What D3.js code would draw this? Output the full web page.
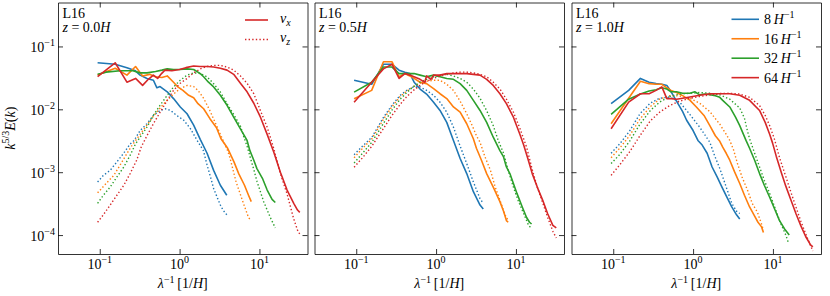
<!DOCTYPE html>
<html>
<head>
<meta charset="utf-8">
<script src="https://cdn.jsdelivr.net/npm/d3@7"></script>
<style>
  body { margin: 0; background: #fff; }
  svg, svg text { font-family: "Liberation Serif", "DejaVu Serif", serif; }
  svg { display: block; }
  .axis path, .axis line { stroke: #000; stroke-width: 0.8; }
</style>
</head>
<body>
<svg id="chart" width="830" height="296" font-family="Liberation Serif"></svg>
<script>
// ---- data: [lambda^-1, k^{5/3} E(k)] ----
var resolutions = ["8", "16", "32", "64"];
var colors = ["#1f77b4", "#ff7f0e", "#2ca02c", "#d62728"];
var heights = ["0.0", "0.5", "1.0"];
var xMajor = [0.1, 1, 10];
var yMajor = [1e-4, 1e-3, 1e-2, 1e-1];

// z = 0.0H
var p1_vx_8 = [[0.094,0.055],[0.156,0.052],[0.219,0.046],[0.28,0.041],[0.32,0.035],[0.39,0.031],[0.47,0.029],[0.52,0.022],[0.57,0.023],[0.70,0.019],[0.84,0.0148],[1.02,0.0109],[1.24,0.0085],[1.5,0.0056],[1.82,0.0033],[2.21,0.002],[2.67,0.00107],[3.24,0.00062],[3.9,0.00043]];
var p1_vz_8 = [[0.094,0.0007],[0.111,0.00089],[0.135,0.00107],[0.164,0.00146],[0.199,0.002],[0.24,0.0028],[0.27,0.0032],[0.32,0.0046],[0.39,0.0059],[0.47,0.008],[0.57,0.0096],[0.66,0.0102],[0.77,0.0096],[0.92,0.008],[1.13,0.0067],[1.37,0.0049],[1.66,0.0032],[1.99,0.0022],[2.21,0.0013],[2.5,0.00075],[2.67,0.00055],[3.0,0.00038],[3.24,0.0003],[3.5,0.00025],[3.9,0.00021]];
var p1_vx_16 = [[0.094,0.035],[0.156,0.045],[0.219,0.035],[0.281,0.048],[0.344,0.034],[0.42,0.036],[0.5,0.033],[0.6,0.032],[0.7,0.034],[0.84,0.027],[0.95,0.0227],[1.1,0.02],[1.3,0.0167],[1.5,0.0153],[1.7,0.0123],[2.0,0.0102],[2.4,0.0071],[2.9,0.0051],[3.3,0.0034],[4.0,0.0024],[4.8,0.00146],[5.5,0.00095],[6.5,0.00062],[7.3,0.00043],[7.9,0.00034]];
var p1_vz_16 = [[0.094,0.00047],[0.12,0.00066],[0.15,0.00089],[0.18,0.0013],[0.22,0.002],[0.25,0.0026],[0.32,0.004],[0.39,0.0056],[0.47,0.0078],[0.57,0.0105],[0.7,0.014],[0.84,0.0175],[1.0,0.021],[1.24,0.024],[1.5,0.023],[1.7,0.02],[2.0,0.015],[2.4,0.0095],[2.9,0.0055],[3.4,0.0035],[4.0,0.0022],[4.3,0.00165],[5.1,0.0007],[6.3,0.00032],[7.3,0.00019],[7.9,0.00017]];
var p1_vx_32 = [[0.094,0.036],[0.12,0.039],[0.18,0.041],[0.26,0.041],[0.32,0.038],[0.39,0.038],[0.5,0.04],[0.6,0.042],[0.7,0.044],[0.84,0.043],[1.0,0.043],[1.24,0.044],[1.5,0.043],[1.82,0.037],[2.0,0.033],[2.3,0.027],[2.67,0.0227],[3.24,0.0167],[3.93,0.0116],[4.76,0.0075],[5.78,0.0049],[7.0,0.0032],[7.6,0.0022],[8.5,0.00155],[9.3,0.00114],[10.9,0.0008],[12.5,0.00052],[14.4,0.00037],[15.8,0.00033]];
var p1_vz_32 = [[0.094,0.00032],[0.111,0.00043],[0.135,0.00058],[0.164,0.00084],[0.2,0.00121],[0.24,0.00185],[0.28,0.0028],[0.32,0.0036],[0.39,0.0052],[0.47,0.008],[0.57,0.0116],[0.7,0.0167],[0.84,0.0227],[1.02,0.029],[1.24,0.035],[1.5,0.038],[1.82,0.037],[2.2,0.033],[2.67,0.0256],[3.24,0.0188],[3.93,0.0123],[4.76,0.0083],[5.78,0.0054],[6.4,0.0036],[7.0,0.0026],[7.6,0.0018],[8.5,0.0011],[9.3,0.00072],[11.3,0.00034],[13.7,0.00019],[15.8,0.00013]];
var p1_vx_64 = [[0.094,0.033],[0.156,0.055],[0.219,0.027],[0.281,0.031],[0.344,0.024],[0.406,0.03],[0.469,0.035],[0.531,0.031],[0.594,0.037],[0.656,0.042],[0.8,0.041],[1.0,0.043],[1.2,0.046],[1.5,0.049],[1.8,0.048],[2.2,0.048],[2.67,0.047],[3.24,0.045],[3.93,0.042],[4.76,0.036],[5.78,0.026],[7.0,0.019],[8.5,0.0125],[10.3,0.0075],[12.5,0.004],[15.1,0.0021],[18.3,0.001],[22.2,0.00052],[26.9,0.00032],[30,0.00025],[32,0.00023]];
var p1_vz_64 = [[0.094,0.00016],[0.111,0.00021],[0.135,0.0003],[0.164,0.00043],[0.2,0.00062],[0.24,0.00095],[0.29,0.00155],[0.33,0.0025],[0.39,0.0038],[0.47,0.0059],[0.57,0.009],[0.7,0.0139],[0.84,0.02],[1.02,0.026],[1.24,0.031],[1.5,0.038],[1.82,0.044],[2.2,0.048],[2.67,0.05],[3.24,0.05],[3.93,0.047],[4.76,0.042],[5.78,0.034],[7.0,0.026],[8.5,0.0177],[10.3,0.0095],[12.5,0.0052],[15.1,0.0024],[18.3,0.00095],[22.2,0.00045],[26.9,0.00018],[30,0.00012],[32.5,0.0001]];

// z = 0.5H
var p2_vx_8 = [[0.094,0.029],[0.156,0.025],[0.219,0.052],[0.281,0.052],[0.344,0.042],[0.406,0.039],[0.469,0.037],[0.531,0.027],[0.63,0.021],[0.76,0.0175],[0.93,0.013],[1.12,0.0096],[1.36,0.0062],[1.65,0.0032],[2.0,0.00165],[2.42,0.00095],[2.93,0.00049],[3.55,0.0003],[3.9,0.00026]];
var p2_vz_8 = [[0.094,0.0019],[0.12,0.0026],[0.157,0.0036],[0.22,0.0075],[0.28,0.0116],[0.355,0.0167],[0.43,0.02],[0.52,0.0227],[0.63,0.0227],[0.76,0.02],[0.93,0.0167],[1.12,0.013],[1.36,0.009],[1.65,0.0052],[2.0,0.0026],[2.42,0.00137],[2.93,0.0007],[3.55,0.00038],[3.9,0.00032]];
var p2_vx_16 = [[0.094,0.0147],[0.156,0.02],[0.219,0.057],[0.281,0.057],[0.344,0.033],[0.406,0.037],[0.469,0.034],[0.53,0.031],[0.63,0.027],[0.76,0.0256],[0.93,0.0213],[1.12,0.0177],[1.36,0.0148],[1.65,0.0109],[2.0,0.009],[2.42,0.0059],[2.93,0.0034],[3.2,0.0024],[3.7,0.00155],[4.3,0.00095],[5.2,0.00058],[6.3,0.00034],[7.0,0.00024],[7.6,0.00017],[8.0,0.00016]];
var p2_vz_16 = [[0.094,0.0017],[0.12,0.0024],[0.157,0.0034],[0.22,0.007],[0.28,0.011],[0.355,0.016],[0.43,0.0195],[0.52,0.023],[0.63,0.026],[0.76,0.028],[0.93,0.029],[1.12,0.029],[1.36,0.025],[1.65,0.02],[2.0,0.0135],[2.42,0.0085],[2.93,0.005],[3.2,0.0038],[3.55,0.003],[4.1,0.00175],[4.8,0.00107],[5.5,0.00058],[6.3,0.00036],[7.3,0.00021],[8.0,0.00017]];
var p2_vx_32 = [[0.094,0.0188],[0.156,0.027],[0.219,0.047],[0.281,0.047],[0.344,0.037],[0.406,0.037],[0.469,0.037],[0.53,0.037],[0.63,0.035],[0.76,0.033],[0.93,0.035],[1.12,0.033],[1.36,0.031],[1.65,0.03],[2.0,0.0256],[2.42,0.02],[2.93,0.0139],[3.55,0.0096],[4.3,0.0062],[5.2,0.0036],[6.3,0.0022],[7.0,0.00175],[7.6,0.00121],[8.4,0.00095],[9.3,0.00066],[10.3,0.00046],[12.0,0.00028],[13.6,0.00019],[14.8,0.00016],[15.7,0.00015]];
var p2_vz_32 = [[0.094,0.0014],[0.12,0.002],[0.157,0.003],[0.22,0.006],[0.28,0.0097],[0.355,0.0145],[0.43,0.0185],[0.52,0.023],[0.63,0.027],[0.76,0.03],[0.93,0.033],[1.12,0.035],[1.36,0.036],[1.65,0.034],[2.0,0.031],[2.42,0.027],[2.93,0.021],[3.55,0.015],[4.3,0.0095],[5.2,0.0055],[6.0,0.0032],[7.0,0.002],[8.0,0.00107],[9.3,0.00058],[10.8,0.00034],[12.5,0.00022],[14.5,0.00014],[15.7,0.00013]];
var p2_vx_64 = [[0.094,0.013],[0.156,0.027],[0.219,0.044],[0.281,0.052],[0.344,0.031],[0.406,0.037],[0.469,0.035],[0.53,0.033],[0.63,0.03],[0.72,0.027],[0.76,0.034],[0.86,0.03],[0.93,0.035],[1.12,0.035],[1.36,0.037],[1.65,0.037],[2.0,0.037],[2.42,0.037],[2.93,0.036],[3.55,0.035],[4.3,0.03],[5.2,0.024],[6.3,0.0177],[7.6,0.0123],[9.3,0.0075],[11.2,0.004],[12.5,0.0027],[14.0,0.0017],[16.0,0.00095],[18.5,0.00058],[21.6,0.00036],[24.9,0.00022],[29,0.000143],[32,0.00013]];
var p2_vz_64 = [[0.094,0.0012],[0.12,0.0017],[0.157,0.0026],[0.22,0.005],[0.28,0.008],[0.355,0.012],[0.43,0.016],[0.52,0.02],[0.63,0.024],[0.76,0.028],[0.93,0.031],[1.12,0.034],[1.36,0.036],[1.65,0.038],[2.0,0.039],[2.42,0.039],[2.93,0.038],[3.55,0.036],[4.3,0.033],[5.2,0.027],[6.3,0.021],[7.6,0.0145],[9.3,0.009],[11.2,0.005],[13.6,0.0025],[16.0,0.0011],[18.5,0.00058],[21.6,0.00033],[25,0.00019],[29,0.000115],[32,0.00009]];

// z = 1.0H
var p3_vx_8 = [[0.094,0.0123],[0.156,0.02],[0.219,0.031],[0.281,0.027],[0.344,0.0256],[0.406,0.025],[0.469,0.024],[0.531,0.019],[0.62,0.0135],[0.74,0.0092],[0.83,0.0067],[1.0,0.0046],[1.15,0.0032],[1.3,0.0027],[1.5,0.002],[1.73,0.00121],[2.0,0.00084],[2.3,0.00058],[2.65,0.0004],[3.05,0.00028],[3.5,0.00021],[3.84,0.00018]];
var p3_vz_8 = [[0.094,0.002],[0.12,0.0028],[0.16,0.0045],[0.216,0.0085],[0.29,0.0125],[0.38,0.015],[0.51,0.0157],[0.68,0.013],[0.91,0.0083],[1.21,0.0052],[1.62,0.003],[1.87,0.0018],[2.16,0.00115],[2.6,0.00058],[3.05,0.00032],[3.5,0.00024],[3.84,0.00022]];
var p3_vx_16 = [[0.094,0.0059],[0.156,0.015],[0.219,0.028],[0.281,0.0256],[0.344,0.025],[0.406,0.025],[0.469,0.022],[0.53,0.02],[0.62,0.0185],[0.74,0.0165],[0.91,0.014],[1.1,0.0109],[1.37,0.008],[1.62,0.0055],[1.9,0.0038],[2.16,0.0031],[2.35,0.0025],[2.6,0.002],[2.88,0.00155],[3.3,0.00102],[3.84,0.00066],[4.4,0.00043],[5.1,0.00028],[5.9,0.0002],[6.5,0.00016],[7.2,0.000135],[7.6,0.00011]];
var p3_vz_16 = [[0.094,0.0017],[0.12,0.0024],[0.16,0.0038],[0.216,0.007],[0.29,0.011],[0.38,0.0145],[0.51,0.0165],[0.68,0.0163],[0.91,0.015],[1.21,0.0125],[1.62,0.0092],[2.16,0.0058],[2.6,0.004],[2.88,0.0032],[3.2,0.0023],[3.6,0.00137],[4.1,0.00084],[4.8,0.00052],[5.5,0.00032],[6.4,0.00023],[7.2,0.00015],[7.6,0.00012]];
var p3_vx_32 = [[0.094,0.0083],[0.156,0.0145],[0.219,0.0175],[0.281,0.0195],[0.344,0.0205],[0.406,0.022],[0.469,0.021],[0.53,0.019],[0.62,0.019],[0.74,0.018],[0.91,0.018],[1.05,0.019],[1.21,0.017],[1.4,0.0175],[1.62,0.017],[1.9,0.0165],[2.16,0.0155],[2.35,0.0139],[2.88,0.0109],[3.4,0.0075],[3.84,0.0055],[4.6,0.0032],[5.1,0.0024],[5.9,0.00155],[6.8,0.00095],[7.8,0.00062],[9.1,0.0004],[10.5,0.00026],[12.1,0.00017],[14.0,0.000125],[16.0,0.0001]];
var p3_vz_32 = [[0.094,0.00137],[0.12,0.0019],[0.16,0.0031],[0.216,0.0058],[0.29,0.0095],[0.38,0.013],[0.51,0.016],[0.68,0.0175],[0.91,0.018],[1.21,0.0185],[1.62,0.018],[2.16,0.017],[2.88,0.0145],[3.84,0.0105],[4.4,0.0072],[4.8,0.0045],[5.1,0.0034],[5.9,0.002],[6.8,0.00121],[7.8,0.00074],[9.1,0.00046],[10.5,0.00028],[12.1,0.00017],[14.5,0.0001],[15.5,0.000078]];
var p3_vx_64 = [[0.094,0.0049],[0.156,0.013],[0.219,0.0177],[0.281,0.0177],[0.344,0.02],[0.406,0.0227],[0.469,0.0148],[0.531,0.0148],[0.62,0.0145],[0.74,0.015],[0.91,0.0157],[1.21,0.0167],[1.62,0.0177],[2.16,0.0177],[2.88,0.0177],[3.84,0.0167],[5.1,0.0139],[6.8,0.0096],[8.0,0.0062],[9.1,0.004],[9.9,0.0029],[11.0,0.0018],[12.7,0.001],[14.5,0.0006],[16.8,0.00036],[19.4,0.00022],[22.4,0.00014],[25.7,0.000095],[29.6,0.00007],[31.6,0.000065]];
var p3_vz_64 = [[0.094,0.00089],[0.12,0.0013],[0.16,0.0021],[0.216,0.0038],[0.29,0.0065],[0.38,0.009],[0.51,0.0115],[0.68,0.0135],[0.91,0.015],[1.21,0.016],[1.62,0.017],[2.16,0.0178],[2.88,0.018],[3.84,0.0175],[5.1,0.0155],[6.8,0.0115],[8.0,0.008],[9.1,0.0055],[10.5,0.0033],[12.1,0.0017],[14.5,0.00085],[16.8,0.00048],[19.4,0.00028],[22.4,0.000165],[25.7,0.000105],[29.6,0.000068],[31.6,0.000056]];

var panels = [
	{ z: heights[0], vx: [p1_vx_8, p1_vx_16, p1_vx_32, p1_vx_64], vz: [p1_vz_8, p1_vz_16, p1_vz_32, p1_vz_64] },
	{ z: heights[1], vx: [p2_vx_8, p2_vx_16, p2_vx_32, p2_vx_64], vz: [p2_vz_8, p2_vz_16, p2_vz_32, p2_vz_64] },
	{ z: heights[2], vx: [p3_vx_8, p3_vx_16, p3_vx_32, p3_vx_64], vz: [p3_vz_8, p3_vz_16, p3_vz_32, p3_vz_64] }
];

// ---- layout ----
var svg = d3.select("#chart");
var panelLeft = [58, 314.5, 571.5];
var panelTop = 2.5, panelW = 249.5, panelH = 251.5;
var MINUS = "\u2212";
var FS = 14, SUP = 10;

var x = d3.scaleLog().domain([0.03, 40]).range([0, panelW]);
var y = d3.scaleLog().domain([5e-5, 0.5]).range([panelH, 0]);

function isDecade(v) {
	var l = Math.log10(v);
	return Math.abs(l - Math.round(l)) < 1e-6;
}
var xMinor = x.ticks().filter(function(v) { return !isDecade(v); });
var yMinor = y.ticks().filter(function(v) { return !isDecade(v); });

var line = d3.line()
	.x(function(d) { return x(d[0]); })
	.y(function(d) { return y(d[1]); });

// a "10^n" label
function pow10(sel, v) {
	var e = Math.round(Math.log10(v));
	sel.text("10");
	sel.append("tspan").attr("dy", -6).attr("font-size", SUP)
		.text(e < 0 ? MINUS + (-e) : "" + e);
}

function drawAxes(g, showY) {
	var defs = [
		[d3.axisBottom, x, "translate(0," + panelH + ")"],
		[d3.axisTop, x, null],
		[d3.axisLeft, y, null],
		[d3.axisRight, y, "translate(" + panelW + ",0)"]
	];
	defs.forEach(function(d) {
		var major = d[1] === x ? xMajor : yMajor;
		var minor = d[1] === x ? xMinor : yMinor;
		var a = g.append("g").attr("class", "axis");
		if (d[2]) a.attr("transform", d[2]);
		a.call(d[0](d[1]).tickValues(minor).tickSize(-2.5).tickSizeOuter(0).tickFormat(""));
		a.call(d[0](d[1]).tickValues(major).tickSize(-5).tickSizeOuter(0).tickFormat(""));
	});

	g.selectAll(".xlab").data(xMajor).enter().append("text")
		.attr("class", "xlab")
		.attr("x", function(d) { return x(d); })
		.attr("y", panelH + 15)
		.attr("text-anchor", "middle")
		.attr("font-size", FS)
		.each(function(d) { pow10(d3.select(this), d); });

	if (showY) {
		g.selectAll(".ylab").data(yMajor).enter().append("text")
			.attr("class", "ylab")
			.attr("x", -3)
			.attr("y", function(d) { return y(d) + 5.5; })
			.attr("text-anchor", "end")
			.attr("font-size", FS)
			.each(function(d) { pow10(d3.select(this), d); });
	}

	// x axis label
	var t = g.append("text")
		.attr("x", panelW / 2)
		.attr("y", 288 - panelTop)
		.attr("text-anchor", "middle")
		.attr("font-size", FS);
	t.append("tspan").attr("font-style", "italic").text("\u03bb");
	t.append("tspan").attr("dy", -5).attr("font-size", SUP).text(MINUS + "1");
	t.append("tspan").attr("dy", 5).text("\u2009[1/");
	t.append("tspan").attr("font-style", "italic").text("H");
	t.append("tspan").text("]");
}

panels.forEach(function(p, pi) {
	var g = svg.append("g").attr("transform", "translate(" + panelLeft[pi] + "," + panelTop + ")");

	g.append("clipPath").attr("id", "clip" + pi)
		.append("rect").attr("width", panelW).attr("height", panelH);

	var lines = g.append("g").attr("clip-path", "url(#clip" + pi + ")");
	resolutions.forEach(function(r, ri) {
		lines.append("path").datum(p.vx[ri])
			.attr("d", line)
			.attr("fill", "none")
			.attr("stroke", colors[ri])
			.attr("stroke-width", 1.6)
			.attr("stroke-linejoin", "round");
		lines.append("path").datum(p.vz[ri])
			.attr("d", line)
			.attr("fill", "none")
			.attr("stroke", colors[ri])
			.attr("stroke-width", 1.4)
			.attr("stroke-dasharray", "1.4,2.2");
	});

	drawAxes(g, pi === 0);

	g.append("text").attr("x", 4.5).attr("y", 15)
		.attr("font-size", FS).text("L16");
	var zt = g.append("text").attr("x", 4.5).attr("y", 29.5)
		.attr("font-size", FS);
	zt.append("tspan").attr("font-style", "italic").text("z");
	zt.append("tspan").text(" = " + p.z);
	zt.append("tspan").attr("font-style", "italic").text("H");
});

// legend: velocity components (panel 1)
var leg1 = svg.append("g").attr("transform", "translate(245,0)");
[["x", null], ["z", "1.4,2.2"]].forEach(function(c, i) {
	var yy = 20 + i * 19.5;
	leg1.append("line").attr("x1", 0).attr("x2", 23).attr("y1", yy).attr("y2", yy)
		.attr("stroke", colors[3]).attr("stroke-width", c[1] ? 1.4 : 1.6)
		.attr("stroke-dasharray", c[1]);
	var t = leg1.append("text").attr("x", 35).attr("y", yy + 2.5).attr("font-size", FS)
		.attr("font-style", "italic");
	t.append("tspan").text("v");
	t.append("tspan").attr("dy", 3).attr("font-size", SUP).text(c[0]);
});

// legend: resolutions (panel 3)
var leg3 = svg.append("g").attr("transform", "translate(731.5,0)");
resolutions.forEach(function(r, i) {
	var yy = 19.3 + i * 19.45;
	leg3.append("line").attr("x1", 0).attr("x2", 27.5).attr("y1", yy).attr("y2", yy)
		.attr("stroke", colors[i]).attr("stroke-width", 1.6);
	var t = leg3.append("text").attr("x", 32.5).attr("y", yy + 5).attr("font-size", FS);
	t.append("tspan").text(r + "\u2009");
	t.append("tspan").attr("font-style", "italic").text("H");
	t.append("tspan").attr("dy", -6).attr("font-size", SUP).text(MINUS + "1");
});

// y axis label
var yl = svg.append("text")
	.attr("transform", "translate(15," + (panelTop + panelH / 2) + ") rotate(-90)")
	.attr("text-anchor", "middle")
	.attr("font-size", FS);
yl.append("tspan").attr("font-style", "italic").text("k");
yl.append("tspan").attr("dy", -6).attr("font-size", SUP).text("5/3");
yl.append("tspan").attr("dy", 6).attr("font-style", "italic").text("E");
yl.append("tspan").text("(");
yl.append("tspan").attr("font-style", "italic").text("k");
yl.append("tspan").text(")");
</script>
</body>
</html>
